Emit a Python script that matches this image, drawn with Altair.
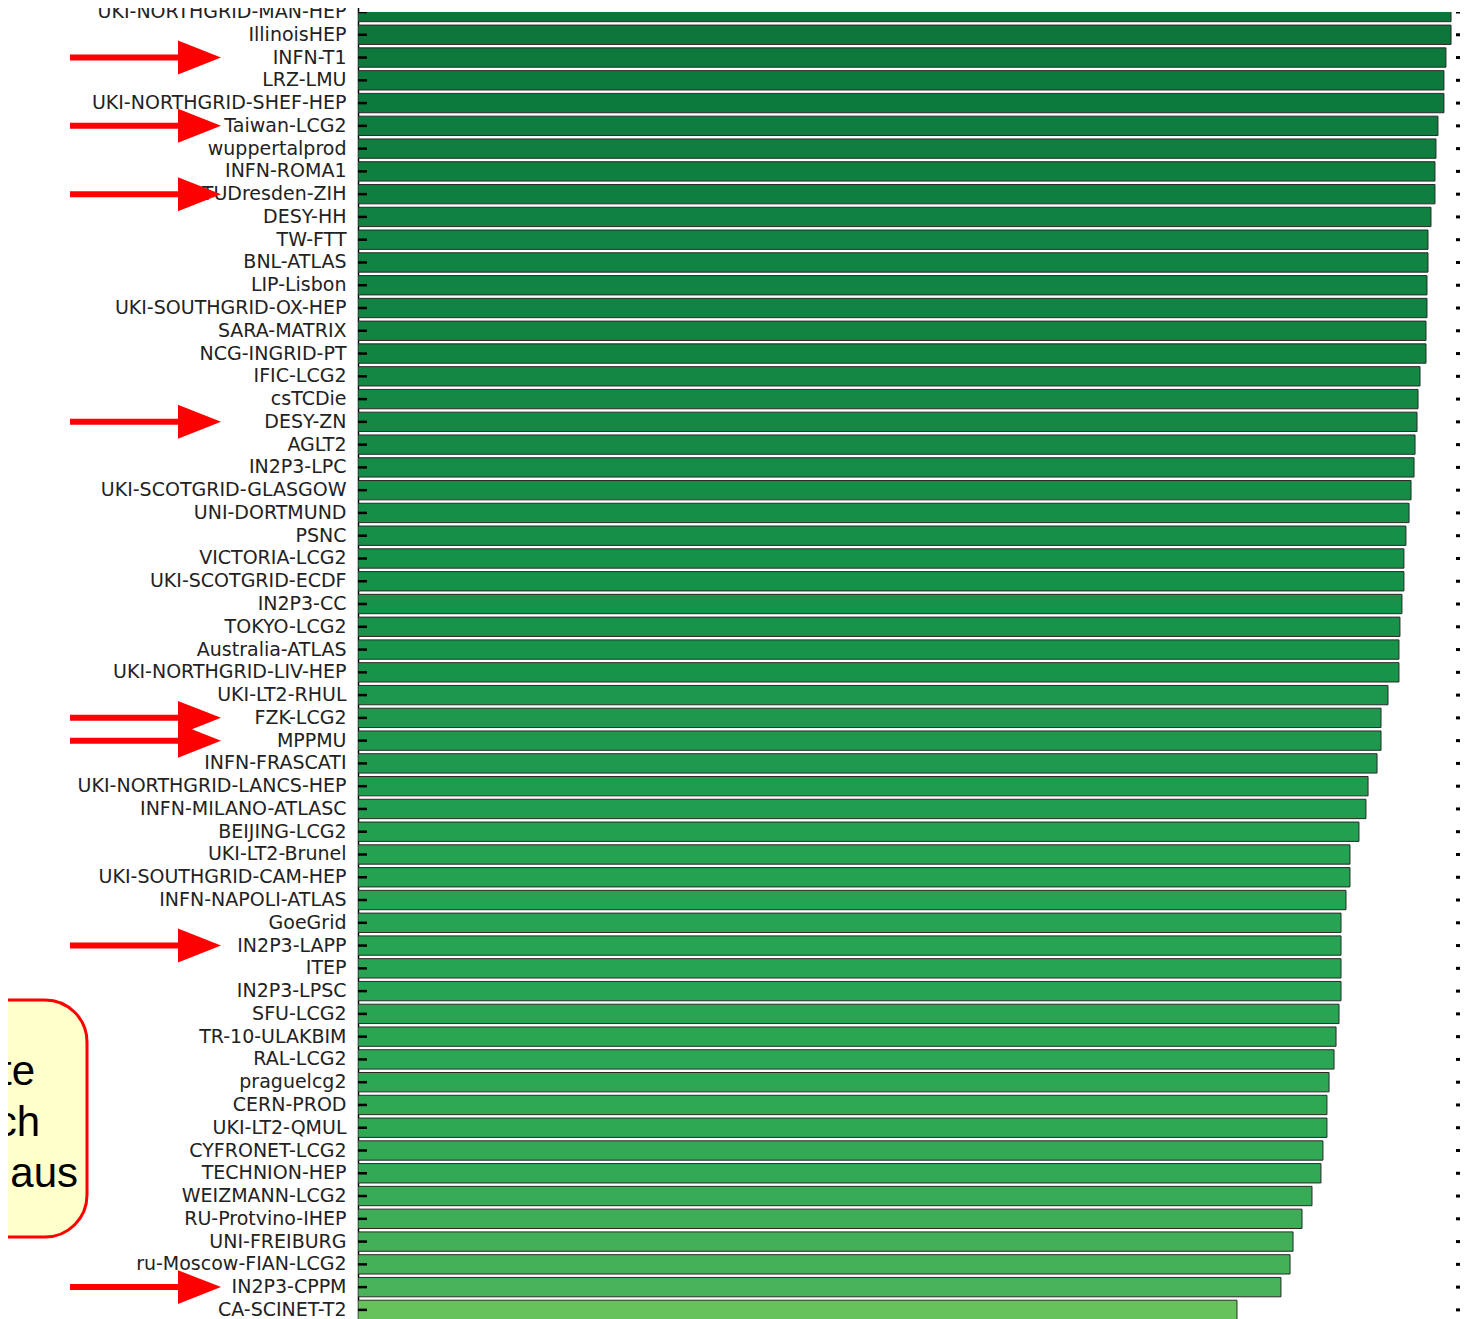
import altair as alt
import pandas as pd

sites = [
    "UKI-NORTHGRID-MAN-HEP", "IllinoisHEP", "INFN-T1", "LRZ-LMU", "UKI-NORTHGRID-SHEF-HEP",
    "Taiwan-LCG2", "wuppertalprod", "INFN-ROMA1", "TUDresden-ZIH", "DESY-HH",
    "TW-FTT", "BNL-ATLAS", "LIP-Lisbon", "UKI-SOUTHGRID-OX-HEP", "SARA-MATRIX",
    "NCG-INGRID-PT", "IFIC-LCG2", "csTCDie", "DESY-ZN", "AGLT2",
    "IN2P3-LPC", "UKI-SCOTGRID-GLASGOW", "UNI-DORTMUND", "PSNC", "VICTORIA-LCG2",
    "UKI-SCOTGRID-ECDF", "IN2P3-CC", "TOKYO-LCG2", "Australia-ATLAS", "UKI-NORTHGRID-LIV-HEP",
    "UKI-LT2-RHUL", "FZK-LCG2", "MPPMU", "INFN-FRASCATI", "UKI-NORTHGRID-LANCS-HEP",
    "INFN-MILANO-ATLASC", "BEIJING-LCG2", "UKI-LT2-Brunel", "UKI-SOUTHGRID-CAM-HEP", "INFN-NAPOLI-ATLAS",
    "GoeGrid", "IN2P3-LAPP", "ITEP", "IN2P3-LPSC", "SFU-LCG2",
    "TR-10-ULAKBIM", "RAL-LCG2", "praguelcg2", "CERN-PROD", "UKI-LT2-QMUL",
    "CYFRONET-LCG2", "TECHNION-HEP", "WEIZMANN-LCG2", "RU-Protvino-IHEP", "UNI-FREIBURG",
    "ru-Moscow-FIAN-LCG2", "IN2P3-CPPM", "CA-SCINET-T2",
]

values = [
    98.65, 98.65, 98.19, 98.01, 98.01,
    97.47, 97.29, 97.20, 97.20, 96.84,
    96.57, 96.57, 96.48, 96.48, 96.39,
    96.39, 95.85, 95.67, 95.58, 95.40,
    95.31, 95.04, 94.86, 94.58, 94.40,
    94.40, 94.22, 94.04, 93.95, 93.95,
    92.96, 92.33, 92.33, 91.97, 91.16,
    90.97, 90.34, 89.53, 89.53, 89.17,
    88.72, 88.72, 88.72, 88.72, 88.54,
    88.27, 88.09, 87.64, 87.45, 87.45,
    87.09, 86.91, 86.10, 85.20, 84.39,
    84.12, 83.30, 79.33,
]

arrow_targets = ["INFN-T1", "Taiwan-LCG2", "TUDresden-ZIH", "DESY-ZN",
                 "FZK-LCG2", "MPPMU", "IN2P3-LAPP", "IN2P3-CPPM"]

callout_lines = ["te", "ch", "aus"]

df = pd.DataFrame({"site": sites, "value": values})
arrows_df = pd.DataFrame({"site": arrow_targets})

n = len(sites)
step = 22.77
y_range = [-step / 2, -step / 2 + step * n]

W = 1103
H = 1308

y_enc = alt.Y(
    "site:N",
    sort=sites,
    scale=alt.Scale(domain=sites, range=y_range, paddingInner=0.15, paddingOuter=0.075),
    axis=alt.Axis(
        title=None, ticks=False, labelPadding=12, labelFontSize=19,
        labelFont="DejaVu Sans", labelColor="#222222", labelLimit=500,
        labelOverlap=False, domain=True, domainColor="#000000", domainWidth=1.5,
        grid=False,
    ),
)

bars = alt.Chart(df).mark_bar(stroke="#2a2a2a", strokeWidth=1, clip=True).encode(
    x=alt.X("value:Q", scale=alt.Scale(domain=[0, 100], range=[0, 1108]), axis=None),
    y=y_enc,
    color=alt.Color(
        "value:Q",
        scale=alt.Scale(domain=[79.3, 83.3, 88.5, 94.2, 98.6],
                        range=["#68c25c", "#48b35a", "#28a553", "#17924a", "#0c763b"]),
        legend=None,
    ),
)

left_ticks = alt.Chart(df).mark_rule(color="#000000", strokeWidth=2.5, clip=True).encode(
    y=alt.Y("site:N", sort=sites),
    x=alt.value(0), x2=alt.value(9),
)

right_ticks = alt.Chart(df).mark_rule(color="#000000", strokeWidth=3, clip=True).encode(
    y=alt.Y("site:N", sort=sites),
    x=alt.value(W - 5), x2=alt.value(W - 1),
)

arrow_shaft = alt.Chart(arrows_df).mark_rule(color="#ff0000", strokeWidth=6).encode(
    y=alt.Y("site:N", sort=sites),
    x=alt.value(-288), x2=alt.value(-180),
)

arrow_head = alt.Chart(arrows_df).mark_point(
    shape="M-1,-0.79L1,0L-1,0.79Z", size=1849, filled=True, color="#ff0000", opacity=1,
).encode(
    y=alt.Y("site:N", sort=sites),
    x=alt.value(-158.5),
)

one = pd.DataFrame({"k": [0]})
callout_box = alt.Chart(one).mark_rect(
    fill="#ffffcc", stroke="#ff0000", strokeWidth=3, cornerRadius=42,
).encode(
    x=alt.value(-420), x2=alt.value(-271),
    y=alt.value(988), y2=alt.value(1225),
)

layers = [bars, left_ticks, right_ticks, arrow_shaft, arrow_head, callout_box]

line_x = [-323, -318, -280]
line_y = [1073, 1124, 1175]
for txt, lx, ly in zip(callout_lines, line_x, line_y):
    layers.append(
        alt.Chart(one).mark_text(
            text=txt, font="Liberation Sans", fontSize=42, color="#000000",
            align="right", baseline="alphabetic",
        ).encode(x=alt.value(lx), y=alt.value(ly))
    )

chart = alt.layer(*layers).resolve_scale(color="independent").properties(
    width=W,
    height=H,
    autosize=alt.AutoSizeParams(type="none"),
    padding={"left": 350, "top": 4, "right": 1, "bottom": 0},
    background="#ffffff",
).configure_view(strokeWidth=0)

chart.save("out.html", embed_options={"renderer": "svg", "actions": False})
